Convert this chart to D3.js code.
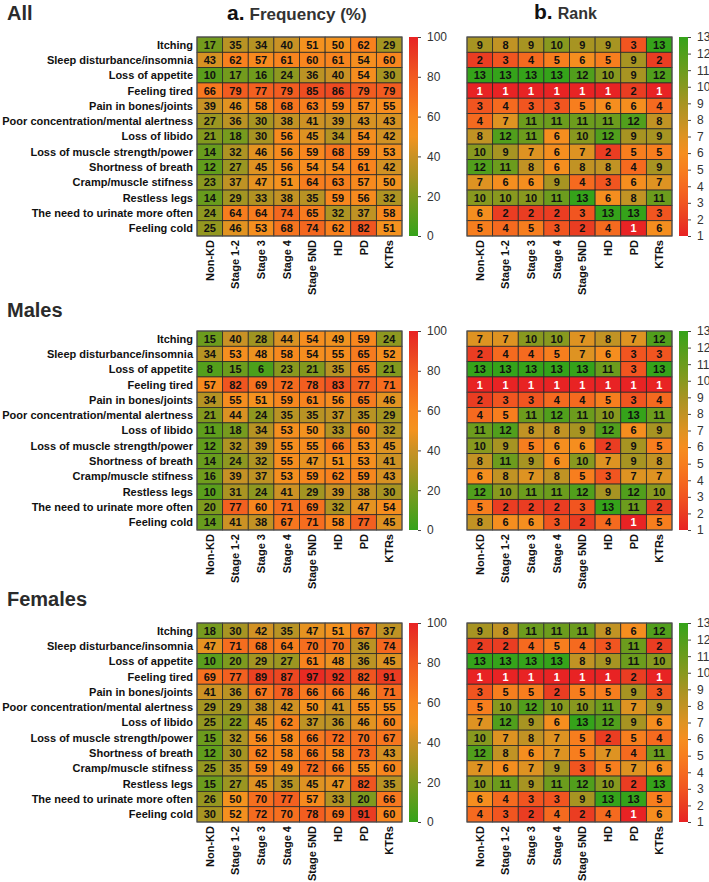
<!DOCTYPE html>
<html>
<head>
<meta charset="utf-8">
<script src="https://cdn.jsdelivr.net/npm/d3@7"></script>
<style>
  body { margin: 0; background: #fff; }
  svg { font-family: "Liberation Sans", Arial, sans-serif; }
</style>
</head>
<body>
<div id="chart"></div>
<script>
var symptoms = ['Itching', 'Sleep disturbance/insomnia', 'Loss of appetite ', 'Feeling tired',
  'Pain in bones/joints', 'Poor concentration/mental alertness', 'Loss of libido',
  'Loss of muscle strength/power', 'Shortness of breath', 'Cramp/muscle stifness',
  'Restless legs', 'The need to urinate more often', 'Feeling cold'];
var groups = ['Non-KD', 'Stage 1-2', 'Stage 3', 'Stage 4', 'Stage 5ND', 'HD', 'PD', 'KTRs'];
var panelNames = ['All', 'Males', 'Females'];
var freqTicks = [0, 20, 40, 60, 80, 100];
var rankTicks = [1, 2, 3, 4, 5, 6, 7, 8, 9, 10, 11, 12, 13];

var freqAll = [
  [17, 35, 34, 40, 51, 50, 62, 29],
  [43, 62, 57, 61, 60, 61, 54, 60],
  [10, 17, 16, 24, 36, 40, 54, 30],
  [66, 79, 77, 79, 85, 86, 79, 79],
  [39, 46, 58, 68, 63, 59, 57, 55],
  [27, 36, 30, 38, 41, 39, 43, 43],
  [21, 18, 30, 56, 45, 34, 54, 42],
  [14, 32, 46, 56, 59, 68, 59, 53],
  [12, 27, 45, 56, 54, 54, 61, 42],
  [23, 37, 47, 51, 64, 63, 57, 50],
  [14, 29, 33, 38, 35, 59, 56, 32],
  [24, 64, 64, 74, 65, 32, 37, 58],
  [25, 46, 53, 68, 74, 62, 82, 51]
];
var rankAll = [
  [9, 8, 9, 10, 9, 9, 3, 13],
  [2, 3, 4, 5, 6, 5, 9, 2],
  [13, 13, 13, 13, 12, 10, 9, 12],
  [1, 1, 1, 1, 1, 1, 2, 1],
  [3, 4, 3, 3, 5, 6, 6, 4],
  [4, 7, 11, 11, 11, 11, 12, 8],
  [8, 12, 11, 6, 10, 12, 9, 9],
  [10, 9, 7, 6, 7, 2, 5, 5],
  [12, 11, 8, 6, 8, 8, 4, 9],
  [7, 6, 6, 9, 4, 3, 6, 7],
  [10, 10, 10, 11, 13, 6, 8, 11],
  [6, 2, 2, 2, 3, 13, 13, 3],
  [5, 4, 5, 3, 2, 4, 1, 6]
];
var freqMales = [
  [15, 40, 28, 44, 54, 49, 59, 24],
  [34, 53, 48, 58, 54, 55, 65, 52],
  [8, 15, 6, 23, 21, 35, 65, 21],
  [57, 82, 69, 72, 78, 83, 77, 71],
  [34, 55, 51, 59, 61, 56, 65, 46],
  [21, 44, 24, 35, 35, 37, 35, 29],
  [11, 18, 34, 53, 50, 33, 60, 32],
  [12, 32, 39, 55, 55, 66, 53, 45],
  [14, 24, 32, 55, 47, 51, 53, 41],
  [16, 39, 37, 53, 59, 62, 59, 43],
  [10, 31, 24, 41, 29, 39, 38, 30],
  [20, 77, 60, 71, 69, 32, 47, 54],
  [14, 41, 38, 67, 71, 58, 77, 45]
];
var rankMales = [
  [7, 7, 10, 10, 7, 8, 7, 12],
  [2, 4, 4, 5, 7, 6, 3, 3],
  [13, 13, 13, 13, 13, 11, 3, 13],
  [1, 1, 1, 1, 1, 1, 1, 1],
  [2, 3, 3, 4, 4, 5, 3, 4],
  [4, 5, 11, 12, 11, 10, 13, 11],
  [11, 12, 8, 8, 9, 12, 6, 9],
  [10, 9, 5, 6, 6, 2, 9, 5],
  [8, 11, 9, 6, 10, 7, 9, 8],
  [6, 8, 7, 8, 5, 3, 7, 7],
  [12, 10, 11, 11, 12, 9, 12, 10],
  [5, 2, 2, 2, 3, 13, 11, 2],
  [8, 6, 6, 3, 2, 4, 1, 5]
];
var freqFemales = [
  [18, 30, 42, 35, 47, 51, 67, 37],
  [47, 71, 68, 64, 70, 70, 36, 74],
  [10, 20, 29, 27, 61, 48, 36, 45],
  [69, 77, 89, 87, 97, 92, 82, 91],
  [41, 36, 67, 78, 66, 66, 46, 71],
  [29, 29, 38, 42, 50, 41, 55, 55],
  [25, 22, 45, 62, 37, 36, 46, 60],
  [15, 32, 56, 58, 66, 72, 70, 67],
  [12, 30, 62, 58, 66, 58, 73, 43],
  [25, 35, 59, 49, 72, 66, 55, 60],
  [15, 27, 45, 35, 45, 47, 82, 35],
  [26, 50, 70, 77, 57, 33, 20, 66],
  [30, 52, 72, 70, 78, 69, 91, 60]
];
var rankFemales = [
  [9, 8, 11, 11, 11, 8, 6, 12],
  [2, 2, 4, 5, 4, 3, 11, 2],
  [13, 13, 13, 13, 8, 9, 11, 10],
  [1, 1, 1, 1, 1, 1, 2, 1],
  [3, 5, 5, 2, 5, 5, 9, 3],
  [5, 10, 12, 10, 10, 11, 7, 9],
  [7, 12, 9, 6, 13, 12, 9, 6],
  [10, 7, 8, 7, 5, 2, 5, 4],
  [12, 8, 6, 7, 5, 7, 4, 11],
  [7, 6, 7, 9, 3, 5, 7, 6],
  [10, 11, 9, 11, 12, 10, 2, 13],
  [6, 4, 3, 3, 9, 13, 13, 5],
  [4, 3, 2, 4, 2, 4, 1, 6]
];

var panels = [
  { name: panelNames[0], freq: freqAll, rank: rankAll, top: 37, titleY: 20 },
  { name: panelNames[1], freq: freqMales, rank: rankMales, top: 331, titleY: 317 },
  { name: panelNames[2], freq: freqFemales, rank: rankFemales, top: 623, titleY: 606 }
];

var W = 709, H = 882;
var mapW = 205, mapH = 199;
var freqX = 197, rankX = 467;
var barW = 9, freqBarX = 409, rankBarX = 679;

// green -> olive -> orange -> red
var colorStops = [0, 10, 20, 30, 40, 50, 60, 70, 80, 90, 100];
var colorVals = ['#35a31a', '#5a9e1c', '#7e9a1e', '#a79422', '#c99225', '#f3931f',
                 '#f8861e', '#f66f1f', '#f25a20', '#ea3f22', '#e82324'];
var color = d3.scaleLinear().domain(colorStops).range(colorVals)
  .interpolate(d3.interpolateRgb).clamp(true);
// rank 1 = red, rank 13 = green, middle ranks lean gold
var rankToVal = d3.scaleLinear().domain([1, 7, 13]).range([100, 45, 0]).clamp(true);
var rankColor = r => color(rankToVal(r));

var svg = d3.select('#chart').append('svg')
  .attr('width', W).attr('height', H);

var defs = svg.append('defs');
var grad = defs.append('linearGradient').attr('id', 'cbar')
  .attr('x1', 0).attr('y1', 1).attr('x2', 0).attr('y2', 0);
grad.selectAll('stop').data(colorStops).enter().append('stop')
  .attr('offset', d => d + '%')
  .attr('stop-color', d => color(d));

var rgrad = defs.append('linearGradient').attr('id', 'rbar')
  .attr('x1', 0).attr('y1', 1).attr('x2', 0).attr('y2', 0);
rgrad.selectAll('stop').data(rankTicks).enter().append('stop')
  .attr('offset', d => ((d - 1) / 12 * 100) + '%')
  .attr('stop-color', d => rankColor(d));

// column headers
var hA = svg.append('text').attr('x', 227).attr('y', 20).attr('font-weight', 'bold');
hA.append('tspan').attr('font-size', 21).attr('fill', '#111').text('a.');
hA.append('tspan').attr('font-size', 17).attr('fill', '#333').attr('dx', 5).text('Frequency (%)');
var hB = svg.append('text').attr('x', 534).attr('y', 19).attr('font-weight', 'bold');
hB.append('tspan').attr('font-size', 21).attr('fill', '#111').text('b.');
hB.append('tspan').attr('font-size', 16).attr('fill', '#333').attr('dx', 5).text('Rank');

var x = d3.scaleBand().domain(groups).range([0, mapW]);
var y = d3.scaleBand().domain(symptoms).range([0, mapH]);

function heatmap(g, values, fillFn, isRank) {
  var cells = [];
  values.forEach((row, i) => row.forEach((v, j) => cells.push({ s: symptoms[i], g: groups[j], v: v })));

  g.selectAll('rect.cell').data(cells).enter().append('rect')
    .attr('class', 'cell')
    .attr('x', d => x(d.g)).attr('y', d => y(d.s))
    .attr('width', x.bandwidth()).attr('height', y.bandwidth())
    .attr('fill', d => fillFn(d.v))
    .attr('stroke', '#2a2a2a').attr('stroke-width', 0.8);

  g.selectAll('text.val').data(cells).enter().append('text')
    .attr('class', 'val')
    .attr('x', d => x(d.g) + x.bandwidth() / 2)
    .attr('y', d => y(d.s) + y.bandwidth() / 2)
    .attr('dy', '0.36em')
    .attr('text-anchor', 'middle')
    .attr('font-size', 11).attr('font-weight', 'bold')
    .attr('fill', d => (isRank && d.v === 1) ? '#fff' : '#111')
    .text(d => d.v);

  g.append('rect').attr('width', mapW).attr('height', mapH)
    .attr('fill', 'none').attr('stroke', '#555').attr('stroke-width', 1);

  g.selectAll('text.col').data(groups).enter().append('text')
    .attr('class', 'col')
    .attr('transform', d => 'translate(' + (x(d) + x.bandwidth() / 2) + ',' + (mapH + 4) + ') rotate(-90)')
    .attr('dy', '0.36em')
    .attr('text-anchor', 'end')
    .attr('font-size', 11).attr('font-weight', 'bold').attr('fill', '#111')
    .text(d => d);
}

function colorbar(g, scale, ticks, gradId) {
  g.append('rect').attr('width', barW).attr('height', mapH).attr('fill', 'url(#' + gradId + ')');
  var ax = g.append('g').attr('transform', 'translate(' + barW + ',0)')
    .call(d3.axisRight(scale).tickValues(ticks).tickSize(3).tickPadding(6));
  ax.select('.domain').remove();
  ax.selectAll('.tick line').attr('stroke', '#444');
  ax.selectAll('text').attr('font-size', 12).attr('fill', '#333')
    .attr('font-family', '"Liberation Sans", Arial, sans-serif');
}

var freqScale = d3.scaleLinear().domain([0, 100]).range([mapH, 0]);
var rankScale = d3.scaleLinear().domain([1, 13]).range([mapH, 0]);

panels.forEach(p => {
  svg.append('text').attr('x', 7).attr('y', p.titleY)
    .attr('font-size', 20).attr('font-weight', 'bold').attr('fill', '#2b2b2b')
    .text(p.name);

  var gl = svg.append('g').attr('transform', 'translate(' + freqX + ',' + p.top + ')');
  gl.selectAll('text.row').data(symptoms).enter().append('text')
    .attr('class', 'row')
    .attr('x', -4)
    .attr('y', d => y(d) + y.bandwidth() / 2)
    .attr('dy', '0.36em')
    .attr('text-anchor', 'end')
    .attr('font-size', 11).attr('font-weight', 'bold').attr('fill', '#111')
    .text(d => d.trim());

  heatmap(gl, p.freq, color, false);

  var gr = svg.append('g').attr('transform', 'translate(' + rankX + ',' + p.top + ')');
  heatmap(gr, p.rank, rankColor, true);

  colorbar(svg.append('g').attr('transform', 'translate(' + freqBarX + ',' + p.top + ')'), freqScale, freqTicks, 'cbar');
  colorbar(svg.append('g').attr('transform', 'translate(' + rankBarX + ',' + p.top + ')'), rankScale, rankTicks, 'rbar');
});
</script>
</body>
</html>
